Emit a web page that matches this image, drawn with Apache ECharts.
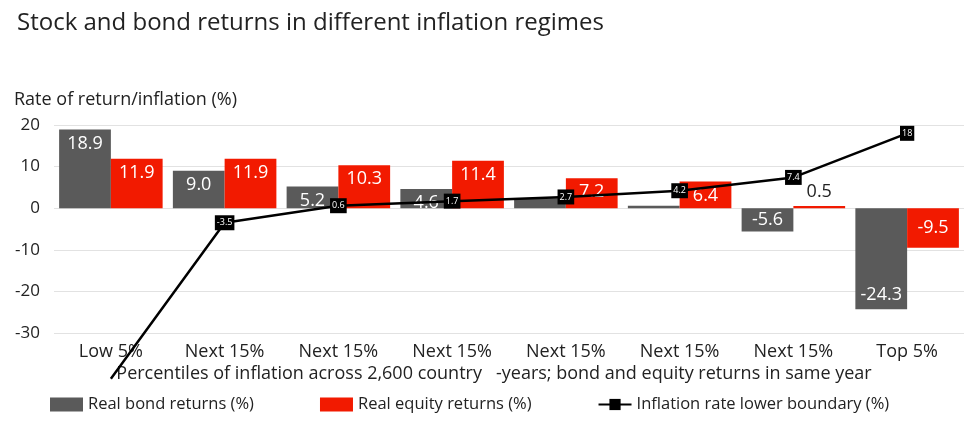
<!DOCTYPE html>
<html>
<head>
<meta charset="utf-8">
<script src="https://cdn.jsdelivr.net/npm/echarts@6/dist/echarts.min.js"></script>
<style>
  html, body { margin: 0; padding: 0; background: #fff; }
  #chart { width: 974px; height: 421px; }
</style>
</head>
<body>
<div id="chart"></div>
<script>
const GRAY = "#5a5a5a";
const RED = "#f21a00";
const FONT = "'Open Sans', 'Noto Sans', sans-serif";

const categories = ["Low 5%", "Next 15%", "Next 15%", "Next 15%", "Next 15%", "Next 15%", "Next 15%", "Top 5%"];
const bondReturns = [18.9, 9.0, 5.2, 4.6, 2.4, 0.6, -5.6, -24.3];
const equityReturns = [11.9, 11.9, 10.3, 11.4, 7.2, 6.4, 0.5, -9.5];
const inflationBoundary = [-41, -3.5, 0.6, 1.7, 2.7, 4.2, 7.4, 18];
const yTicks = [-30, -20, -10, 0, 10, 20];

const chart = echarts.init(document.getElementById("chart"), undefined, { renderer: "canvas" });

function barLabel(v, i, isBond) {
  // small bars whose labels are hidden under the line markers
  if (isBond && (i === 4 || i === 5)) return { show: false };
  if (v < 1 && v >= 0) return { show: true, position: "top", color: "#222" };
  if (v < -15) return { show: true, position: "insideBottom" };
  return { show: true, position: v < 0 ? "inside" : "insideTop" };
}

chart.setOption({
  animation: false,
  textStyle: { fontFamily: FONT },
  title: {
    text: "Stock and bond returns in different inflation regimes",
    left: 12, top: 6,
    textStyle: { fontSize: 24, fontWeight: "normal", color: "#222", fontFamily: FONT },
  },
  grid: { left: 54, right: 10, top: 125, bottom: 88 },
  legend: {
    left: 45, top: 391,
    itemGap: 66, itemWidth: 33, itemHeight: 14,
    textStyle: { fontSize: 16.5, color: "#222", fontFamily: FONT },
    data: [
      { name: "Real bond returns (%)", icon: "rect" },
      { name: "Real equity returns (%)", icon: "rect" },
      { name: "Inflation rate lower boundary (%)" },
    ],
  },
  xAxis: {
    type: "category",
    data: categories,
    name: "Percentiles of inflation across 2,600 country   -years; bond and equity returns in same year",
    nameLocation: "middle",
    nameGap: 32,
    nameTextStyle: { fontSize: 18, color: "#222", padding: [0, 30, 0, 0] },
    axisLine: { show: false, onZero: false },
    axisTick: { show: false },
    axisLabel: { fontSize: 18, color: "#222", margin: 10 },
  },
  yAxis: {
    type: "value",
    min: yTicks[0], max: yTicks[yTicks.length - 1], interval: 10,
    name: "Rate of return/inflation (%)",
    nameLocation: "end",
    nameGap: 16,
    nameTextStyle: { fontSize: 18, color: "#222", align: "left", padding: [0, 0, 0, -40] },
    axisLine: { show: false },
    axisTick: { show: false },
    axisLabel: { fontSize: 17, color: "#222", margin: 14 },
    splitLine: { lineStyle: { color: "#e2e2e2", width: 1 } },
  },
  series: [
    {
      name: "Real bond returns (%)",
      type: "bar",
      barGap: "0%",
      barCategoryGap: "9%",
      itemStyle: { color: GRAY },
      label: { color: "#fff", fontSize: 18, formatter: (p) => p.value.toFixed(1) },
      data: bondReturns.map((v, i) => ({ value: v, label: barLabel(v, i, true) })),
    },
    {
      name: "Real equity returns (%)",
      type: "bar",
      itemStyle: { color: RED },
      label: { color: "#fff", fontSize: 18, formatter: (p) => p.value.toFixed(1) },
      data: equityReturns.map((v, i) => ({ value: v, label: barLabel(v, i, false) })),
    },
    {
      name: "Inflation rate lower boundary (%)",
      type: "line",
      clip: false,
      z: 10,
      symbol: "rect",
      symbolSize: 10,
      itemStyle: { color: "#000" },
      lineStyle: { color: "#000", width: 2.5 },
      label: {
        show: true, position: "inside",
        color: "#fff", fontSize: 9,
        backgroundColor: "#000", padding: [3, 2],
      },
      data: inflationBoundary.map((v, i) =>
        i === 0 ? { value: v, symbol: "none", label: { show: false } } : v
      ),
    },
  ],
});
</script>
</body>
</html>
